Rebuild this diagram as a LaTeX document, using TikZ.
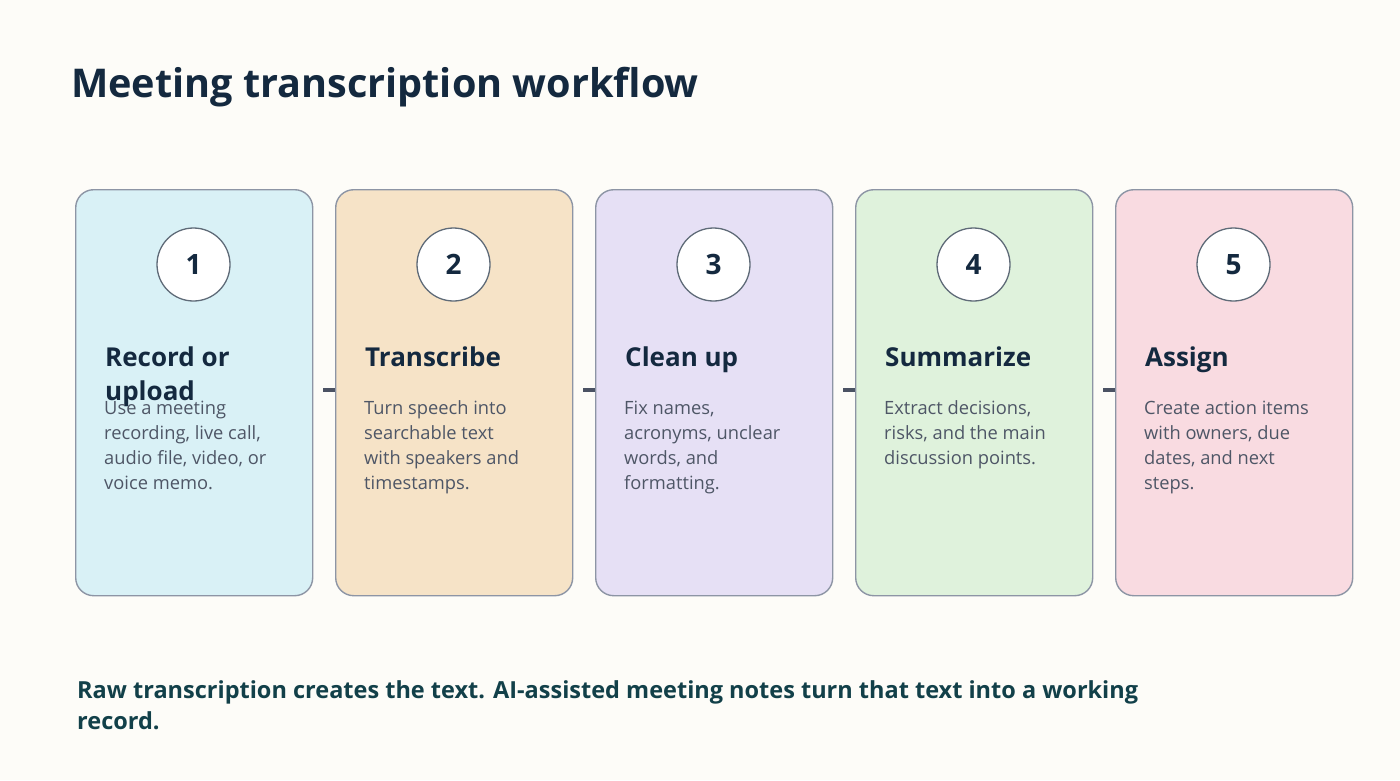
\documentclass[tikz,border=0pt]{standalone}
\usepackage{fontspec}
\setmainfont{Open Sans}
\usetikzlibrary{positioning}
\definecolor{bgc}{HTML}{FDFCF8}
\definecolor{titlec}{HTML}{14293F}
\definecolor{headc}{HTML}{14293F}
\definecolor{descc}{HTML}{4E5666}
\definecolor{borderc}{HTML}{8D95A5}
\definecolor{circb}{HTML}{5F6B78}
\definecolor{linkc}{HTML}{4A5263}
\definecolor{notec}{HTML}{124049}
\definecolor{cA}{HTML}{D9F1F6}
\definecolor{cB}{HTML}{F6E3C7}
\definecolor{cC}{HTML}{E6E0F5}
\definecolor{cD}{HTML}{DFF2DC}
\definecolor{cE}{HTML}{F9DBE1}
\tikzset{
  card/.style={draw=borderc, line width=1.4pt, rounded corners=18pt, minimum width=237pt, minimum height=406pt, inner sep=0pt, anchor=north west},
  numcirc/.style={circle, draw=circb, line width=1.3pt, fill=white, minimum size=73pt, inner sep=0pt, font=\fontsize{28}{28}\selectfont\bfseries, text=titlec},
  head/.style={anchor=base west, inner sep=0pt, align=left, text=headc, font=\fontsize{26}{34}\selectfont\bfseries},
  desc/.style={anchor=base west, inner sep=0pt, align=left, text=descc, font=\fontsize{18.3}{25}\selectfont},
  link/.style={draw=linkc, line width=3.5pt}
}
\begin{document}
\begin{tikzpicture}[x=1pt,y=-1pt]
\fill[bgc] (0,0) rectangle (1400,780);
\useasboundingbox (0,0) rectangle (1400,780);
\node[anchor=base west, inner sep=0pt, text=titlec, font=\fontsize{39.6}{40}\selectfont\bfseries] (title) at (71,97) {Meeting transcription workflow};
% cards
\foreach \i/\x/\c in {1/75/cA,2/335/cB,3/595/cC,4/855/cD,5/1115/cE}{
  \node[card, fill=\c] (card\i) at (\x,189) {};
  \node[numcirc] (num\i) at (\x+118.5,264.5) {\i};
}
% multi-line nodes are anchored at the baseline of their last line
\node[head] (h1) at (105,400) {Record or\\upload};
\node[desc] (d1) at (104,489) {Use a meeting\\recording, live call,\\audio file, video, or\\voice memo.};
\node[head] (h2) at (365,366) {Transcribe};
\node[desc] (d2) at (364,489) {Turn speech into\\searchable text\\with speakers and\\timestamps.};
\node[head] (h3) at (625,366) {Clean up};
\node[desc] (d3) at (624,489) {Fix names,\\acronyms, unclear\\words, and\\formatting.};
\node[head] (h4) at (885,366) {Summarize};
\node[desc] (d4) at (884,464) {Extract decisions,\\risks, and the main\\discussion points.};
\node[head] (h5) at (1145,366) {Assign};
\node[desc] (d5) at (1144,489) {Create action items\\with owners, due\\dates, and next\\steps.};
% connectors
\foreach \a/\b in {1/2,2/3,3/4,4/5}{
  \draw[link] ([xshift=10pt]card\a.east |- 0,390) -- (card\b.west |- 0,390);
}
\node[anchor=base west, inner sep=0pt, align=left, text=notec, font=\fontsize{23.5}{31}\selectfont\bfseries] (note) at (77,729) {Raw transcription creates the text. AI-assisted meeting notes turn that text into a working\\record.};
\end{tikzpicture}
\end{document}
